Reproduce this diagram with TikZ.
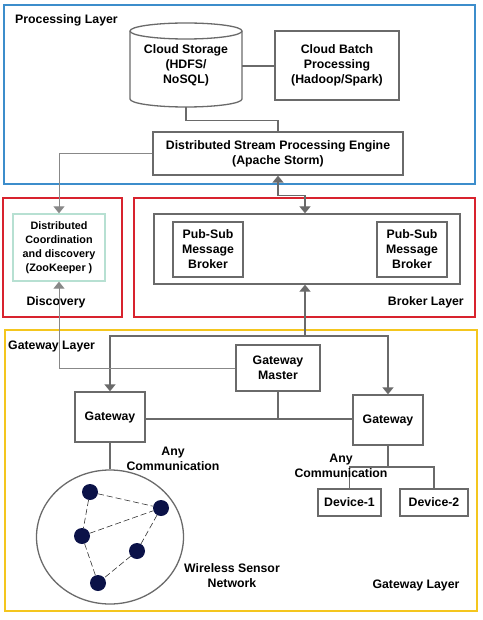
\documentclass[tikz,border=0pt]{standalone}
\usepackage{fontspec}
\setmainfont{Liberation Sans}
\usetikzlibrary{arrows.meta,shapes.geometric,calc}
\definecolor{layblue}{HTML}{3C8DCB}
\definecolor{layred}{HTML}{D8232E}
\definecolor{layyellow}{HTML}{F4C61E}
\definecolor{zkcol}{HTML}{B7E0D2}
\definecolor{linecol}{HTML}{6A6A6A}
\definecolor{navy}{HTML}{0B1248}
\tikzset{
  layer/.style={draw, line width=2pt},
  box/.style={draw=linecol, line width=1.3pt, align=center, font=\bfseries\fontsize{12.3}{15}\selectfont, inner sep=0pt},
  txt/.style={align=center, font=\bfseries\fontsize{12.3}{15}\selectfont, inner sep=0pt},
  conn/.style={draw=linecol, line width=1.3pt},
  thinconn/.style={draw=linecol!80, line width=1pt},
  tip/.style={-{Triangle[width=11pt,length=7pt]}},
  sensor/.style={circle, fill=navy, minimum size=16pt, inner sep=0pt},
  wire/.style={draw=black!80, line width=0.6pt, dash pattern=on 6pt off 3pt}
}
\begin{document}
\begin{tikzpicture}[x=1pt,y=-1pt]
\useasboundingbox (0,0) rectangle (482,620);
% layers
\node[layer, draw=layblue, minimum width=471, minimum height=179, inner sep=0pt] (pl) at (239.5,94.5) {};
\node[layer, draw=layred, minimum width=119, minimum height=119, inner sep=0pt] (dl) at (62.5,257.5) {};
\node[layer, draw=layred, minimum width=341, minimum height=119, inner sep=0pt] (bl) at (304.5,257.5) {};
\node[layer, draw=layyellow, minimum width=472, minimum height=281, inner sep=0pt] (gl) at (241,470.5) {};
\node[txt, anchor=west] (plt) at (15,20) {Processing Layer};
\node[txt] (dlt) at (56,302) {Discovery};
\node[txt, anchor=east] (blt) at (464,302) {Broker Layer};
\node[txt, anchor=west] (glt) at (8,346) {Gateway Layer};
\node[txt] (glb) at (416,585) {Gateway Layer};
% cloud storage cylinder
\node[minimum width=112, minimum height=84, inner sep=0pt] (cs) at (186,65) {};
\draw[conn, fill=white] (130,31) -- (130,99) arc[start angle=180, end angle=0, x radius=56, y radius=8] -- (242,31) arc[start angle=0, end angle=-180, x radius=56, y radius=8] -- cycle;
\draw[conn] (130,31) arc[start angle=180, end angle=0, x radius=56, y radius=8];
\node[txt] (cst) at (186,65) {Cloud Storage\\(HDFS/\\NoSQL)};
\node[box, minimum width=124, minimum height=69] (cb) at (337,65.5) {Cloud Batch\\Processing\\(Hadoop/Spark)};
\node[box, minimum width=250, minimum height=43] (dspe) at (278,153.5) {Distributed Stream Processing Engine\\(Apache Storm)};
% discovery
\node[draw=zkcol, line width=1.3pt, minimum width=92, minimum height=67, inner sep=0pt, align=center, font=\bfseries\fontsize{10.8}{14}\selectfont] (zk) at (59,247.5) {Distributed\\Coordination\\and discovery\\(ZooKeeper )};
% broker
\node[draw=linecol, line width=1.3pt, minimum width=306, minimum height=70, inner sep=0pt] (ib) at (307,249) {};
\node[box, minimum width=70, minimum height=55] (pb1) at (208,249.5) {Pub-Sub\\Message\\Broker};
\node[box, minimum width=70, minimum height=55] (pb2) at (412,249.5) {Pub-Sub\\Message\\Broker};
% gateway layer
\node[box, minimum width=84, minimum height=46] (gm) at (278,368) {Gateway\\Master};
\node[box, minimum width=70, minimum height=50] (gw1) at (110,417) {Gateway};
\node[box, minimum width=70, minimum height=50] (gw2) at (388,420) {Gateway};
\node[box, minimum width=63, minimum height=27] (d1) at (349.5,502.5) {Device-1};
\node[box, minimum width=68, minimum height=27] (d2) at (434,502.5) {Device-2};
\node[draw=linecol, line width=1.3pt, ellipse, minimum width=147, minimum height=134, inner sep=0pt] (wsn) at (110,537) {};
\node[txt] (wsnt) at (232,576) {Wireless Sensor\\Network};
\node[txt] (ac1) at (173,459) {Any\\Communication};
% connectors processing
\draw[conn] (cs.east |- 0,66) -- (cb.west |- 0,66);
\draw[conn] (cs.south) -- ++(0,13) -| (dspe.north);
\draw[thinconn, tip] (dspe.west) -| (zk.north);
\draw[conn, {Triangle[width=11pt,length=7pt]}-{Triangle[width=11pt,length=7pt]}] (dspe.south) -- ++(0,20) -| ([xshift=-2pt]ib.north);
% gateway connectors
\coordinate (j) at (305,336);
\draw[conn, tip] (j) -- (j |- ib.south);
\draw[conn, tip] (j) -| (gw1.north);
\draw[conn, tip] (j) -| (gw2.north);
\draw[thinconn, tip] (gm.west) -| (zk.south);
\draw[conn] (gw1.east |- 0,419) -- (gw2.west |- 0,419);
\draw[conn] (gm.south) -- (gm.south |- 0,419);
\draw[conn] (gw1.south) -- (wsn.north);
\coordinate (k) at (388,467);
\draw[conn] (gw2.south) -- (k);
\draw[conn] (d1.north) -- (d1.north |- k) -- (d2.north |- k) -- (d2.north);
\node[txt] (ac2) at (341,466) {Any\\Communication};
% sensors
\node[sensor] (s1) at (90,492) {};
\node[sensor] (s2) at (161,508) {};
\node[sensor] (s3) at (82,536) {};
\node[sensor] (s4) at (137,551) {};
\node[sensor] (s5) at (98,583) {};
\draw[wire] (s1) -- (s2);
\draw[wire] (s1) -- (s3);
\draw[wire] (s3) -- (s2);
\draw[wire] (s2) -- (s4);
\draw[wire] (s3) -- (s5);
\draw[wire] (s4) -- (s5);
\end{tikzpicture}
\end{document}
